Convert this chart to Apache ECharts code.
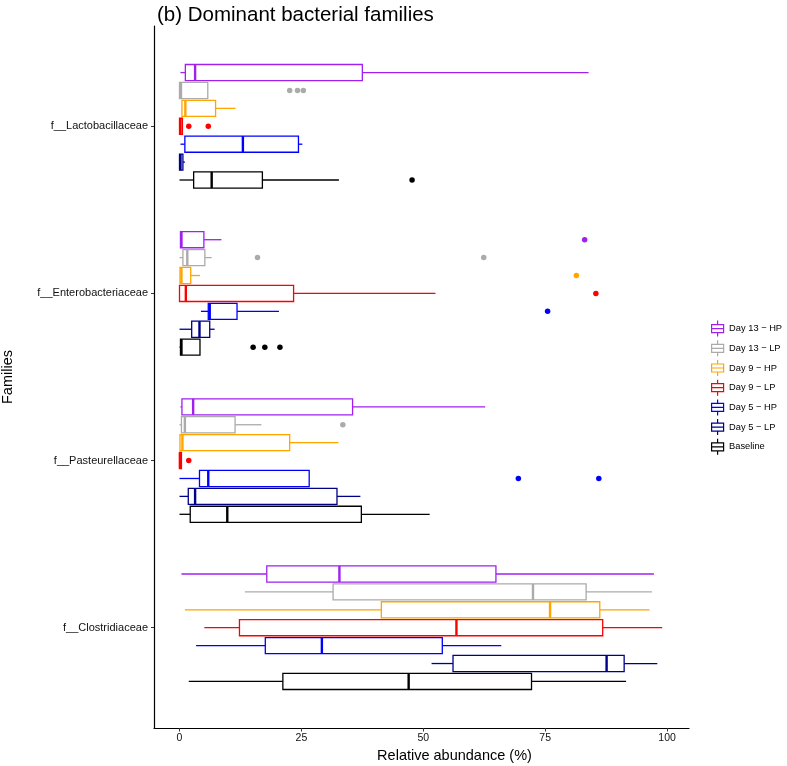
<!DOCTYPE html>
<html>
<head>
<meta charset="utf-8">
<script src="https://cdn.jsdelivr.net/npm/echarts@6/dist/echarts.min.js"></script>
<style>
  html, body { margin: 0; padding: 0; background: #fff; }
  #main { width: 787px; height: 766px; }
</style>
</head>
<body>
<div id="main"></div>
<script>
// families, top to bottom
var families = ['f__Lactobacillaceae', 'f__Enterobacteriaceae', 'f__Pasteurellaceae', 'f__Clostridiaceae'];
var familyPos = [4, 3, 2, 1];
var xTicks = [0, 25, 50, 75, 100];

var groups = ['Day 13 − HP', 'Day 13 − LP', 'Day 9 − HP', 'Day 9 − LP', 'Day 5 − HP', 'Day 5 − LP', 'Baseline'];
var colors = ['#A020F0', '#ABABAB', '#FFA500', '#FF0000', '#0000FF', '#00008B', '#000000'];

// [lower whisker, Q1, median, Q3, upper whisker] per family (same order as families)
var day13HP = [[0.2, 1.2, 3.2, 37.5, 83.9], [0.2, 0.2, 0.4, 5.0, 8.6], [0.2, 0.5, 2.8, 35.5, 62.7], [0.4, 17.9, 32.8, 64.9, 97.3]];
var day13LP = [[0, 0, 0.3, 5.8, 5.8], [0, 0.7, 1.6, 5.2, 6.6], [0, 0.4, 1.1, 11.4, 16.8], [13.4, 31.5, 72.5, 83.4, 96.9]];
var day9HP = [[0.4, 0.5, 1.2, 7.4, 11.5], [0.1, 0.1, 0.4, 2.3, 4.2], [0.1, 0.1, 0.6, 22.6, 32.6], [1.1, 41.4, 76.0, 86.2, 96.4]];
var day9LP = [[0, 0, 0.2, 0.6, 0.6], [0, 0, 1.3, 23.4, 52.5], [0, 0, 0.1, 0.4, 0.4], [5.1, 12.3, 56.8, 86.8, 99.0]];
var day5HP = [[0.2, 1.1, 13.0, 24.4, 25.2], [4.4, 5.9, 6.2, 11.8, 20.4], [0, 4.1, 5.9, 26.6, 26.6], [3.4, 17.6, 29.2, 53.9, 66.0]];
var day5LP = [[0, 0, 0.2, 0.7, 1.1], [0, 2.5, 4.1, 6.2, 7.2], [0, 1.8, 3.2, 32.3, 37.1], [51.7, 56.1, 87.6, 91.2, 98.0]];
var baseline = [[0, 2.9, 6.6, 17.0, 32.7], [0, 0.2, 0.4, 4.2, 4.2], [0, 2.2, 9.8, 37.3, 51.3], [1.9, 21.2, 47.0, 72.2, 91.6]];

// outliers: [family index, value]
var day13HPOut = [[1, 83.1]];
var day13LPOut = [[0, 22.6], [0, 24.2], [0, 25.4], [1, 16.0], [1, 62.4], [2, 33.5]];
var day9HPOut = [[1, 81.4]];
var day9LPOut = [[0, 1.9], [0, 5.9], [1, 85.4], [2, 1.9]];
var day5HPOut = [[1, 75.5], [2, 69.5], [2, 86.0]];
var day5LPOut = [];
var baselineOut = [[0, 47.7], [1, 15.1], [1, 17.5], [1, 20.6]];

var boxData = [day13HP, day13LP, day9HP, day9LP, day5HP, day5LP, baseline];
var outData = [day13HPOut, day13LPOut, day9HPOut, day9LPOut, day5HPOut, day5LPOut, baselineOut];

var chartDom = document.getElementById('main');
var myChart = echarts.init(chartDom, null, { renderer: 'canvas' });
var option;

var FONT = 'Liberation Sans';
var step = 0.75 / 7;       // dodge step
var boxH = step * 0.9;     // box thickness

function dodge(g) {
  return (3 - g) * step;
}

function renderBox(params, api) {
  var y = api.value(5);
  var lo = api.coord([api.value(0), y]);
  var q1 = api.coord([api.value(1), y]);
  var md = api.coord([api.value(2), y]);
  var q3 = api.coord([api.value(3), y]);
  var hi = api.coord([api.value(4), y]);
  var h = api.size([0, boxH])[1];
  var c = api.visual('color');
  var cy = lo[1];
  return {
    type: 'group',
    children: [
      { type: 'line', shape: { x1: lo[0], y1: cy, x2: q1[0], y2: cy }, style: { stroke: c, lineWidth: 1.3 } },
      { type: 'line', shape: { x1: q3[0], y1: cy, x2: hi[0], y2: cy }, style: { stroke: c, lineWidth: 1.3 } },
      { type: 'rect', shape: { x: q1[0], y: cy - h / 2, width: Math.max(q3[0] - q1[0], 0.5), height: h }, style: { fill: '#fff', stroke: c, lineWidth: 1.3 } },
      { type: 'line', shape: { x1: md[0], y1: cy - h / 2, x2: md[0], y2: cy + h / 2 }, style: { stroke: c, lineWidth: 2.4 } }
    ]
  };
}

var series = [];
groups.forEach(function (name, g) {
  series.push({
    name: name,
    type: 'custom',
    renderItem: renderBox,
    itemStyle: { color: colors[g] },
    encode: { x: [0, 1, 2, 3, 4], y: 5 },
    data: boxData[g].map(function (s, f) {
      return s.concat([familyPos[f] + dodge(g)]);
    }),
    z: 2
  });
  series.push({
    name: name,
    type: 'scatter',
    symbol: 'circle',
    symbolSize: 5.5,
    itemStyle: { color: colors[g], opacity: 1 },
    data: outData[g].map(function (o) {
      return [o[1], familyPos[o[0]] + dodge(g)];
    }),
    z: 3
  });
});

var boxIcon = 'path://M6,0L6,4M0,4L12,4L12,12L0,12ZM0,8L12,8M6,12L6,16';

option = {
  animation: false,
  backgroundColor: '#fff',
  title: {
    text: '(b) Dominant bacterial families',
    left: 152,
    top: 0,
    textStyle: { fontFamily: FONT, fontSize: 20.5, fontWeight: 'normal', color: '#000' }
  },
  legend: {
    orient: 'vertical',
    left: 706,
    top: 315,
    itemWidth: 13,
    itemHeight: 16,
    itemGap: 2.5,
    selectedMode: false,
    textStyle: { fontFamily: FONT, fontSize: 9.3, color: '#000' },
    data: groups.map(function (name, g) {
      return {
        name: name,
        icon: boxIcon,
        itemStyle: { color: '#fff', borderColor: colors[g], borderWidth: 1.2 }
      };
    })
  },
  grid: {
    left: 154,
    right: 98,
    top: 26,
    bottom: 38,
    containLabel: false,
    outerBoundsMode: 'none'
  },
  xAxis: {
    type: 'value',
    min: -5.23,
    max: 104.5,
    name: 'Relative abundance (%)',
    nameLocation: 'middle',
    nameGap: 19,
    nameTextStyle: { fontFamily: FONT, fontSize: 14.5, color: '#000', padding: [0, 0, 0, 66] },
    splitLine: { show: false },
    axisLine: { show: true, onZero: false, lineStyle: { color: '#000', width: 1.2 } },
    axisTick: { show: true, customValues: xTicks, length: 3.5, lineStyle: { color: '#333' } },
    axisLabel: { customValues: xTicks, fontFamily: FONT, fontSize: 10.5, color: '#111', margin: 5 }
  },
  yAxis: {
    type: 'value',
    min: 0.4,
    max: 4.6,
    name: 'Families',
    nameLocation: 'middle',
    nameGap: 139,
    nameRotate: 90,
    nameTextStyle: { fontFamily: FONT, fontSize: 14.5, color: '#000' },
    splitLine: { show: false },
    axisLine: { show: true, onZero: false, lineStyle: { color: '#000', width: 1.2 } },
    axisTick: { show: true, customValues: familyPos, length: 3, lineStyle: { color: '#333' } },
    axisLabel: {
      customValues: familyPos,
      fontFamily: FONT,
      fontSize: 11,
      color: '#111',
      margin: 6,
      formatter: function (v) {
        return families[familyPos.indexOf(Math.round(v))];
      }
    }
  },
  series: series
};

option && myChart.setOption(option);
</script>
</body>
</html>
